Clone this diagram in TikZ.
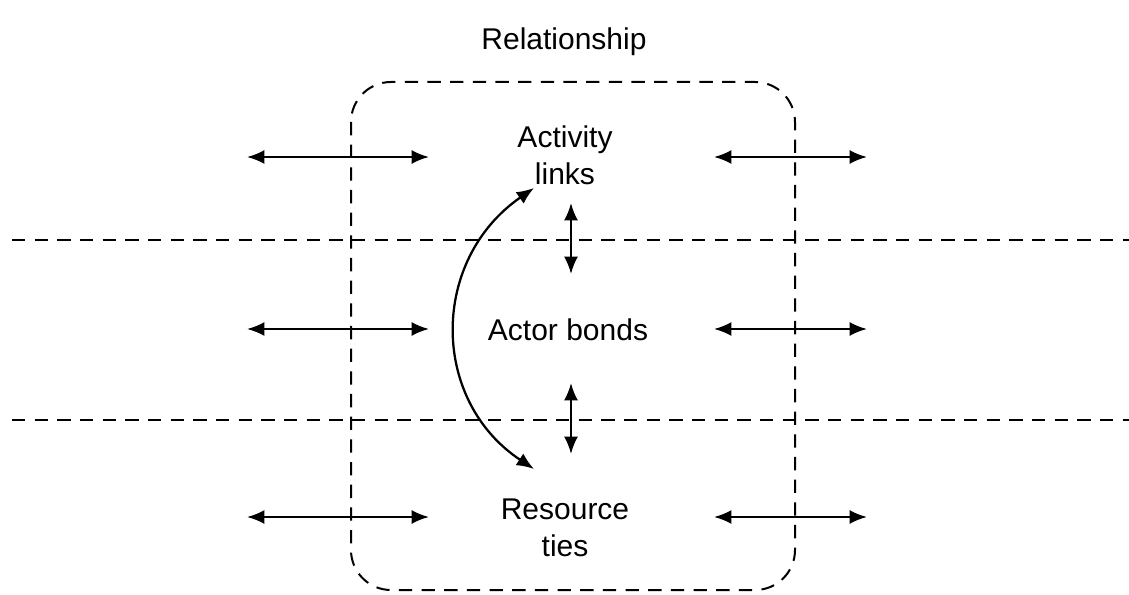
\documentclass[tikz,border=0pt]{standalone}
\usepackage{fontspec}
\setmainfont{Liberation Sans}
\usetikzlibrary{arrows.meta}
\begin{document}
\begin{tikzpicture}[x=0.75pt,y=-0.75pt,
  dline/.style={line width=1.5pt,dash pattern=on 10pt off 7pt},
  biarrow/.style={line width=1.7pt,{Latex[length=13pt,width=10.5pt]}-{Latex[length=13pt,width=10.5pt]}},
  label/.style={font=\fontsize{22.5}{27.5}\selectfont,align=center,inner sep=0pt}]
\useasboundingbox (0,0) rectangle (1129,595);

% relationship boundary
\draw[dline,rounded corners=30pt] (351,82) rectangle (795,590);
% layer separators
\draw[dline] (12,240) -- (1129,240);
\draw[dline] (12,420) -- (1129,420);

% texts
\node[label] (title) at (564,42) {Relationship};
\node[label] (act) at (565,155) {Activity\\links};
\node[label] (actor) at (568,330) {Actor bonds};
\node[label] (res) at (565,528) {Resource\\ties};

% horizontal links to neighbouring relationships
\foreach \y/\n in {157/a,329/b,517/c}{
  \coordinate (l1\n) at (247,\y);
  \coordinate (l2\n) at (429,\y);
  \coordinate (r1\n) at (714,\y);
  \coordinate (r2\n) at (867,\y);
  \draw[biarrow] (l1\n) -- (l2\n);
  \draw[biarrow] (r1\n) -- (r2\n);
}

% vertical links between layers
\coordinate (v1) at (571,203);
\coordinate (v2) at (571,274);
\coordinate (v3) at (571,383);
\coordinate (v4) at (571,454);
\draw[biarrow] (v1) -- (v2);
\draw[biarrow] (v3) -- (v4);

% curved link between activities and resources
\coordinate (c1) at (534,188);
\coordinate (c2) at (534,469);
\draw[biarrow] (c1) .. controls (430,260) and (430,400) .. (c2);
\end{tikzpicture}
\end{document}
